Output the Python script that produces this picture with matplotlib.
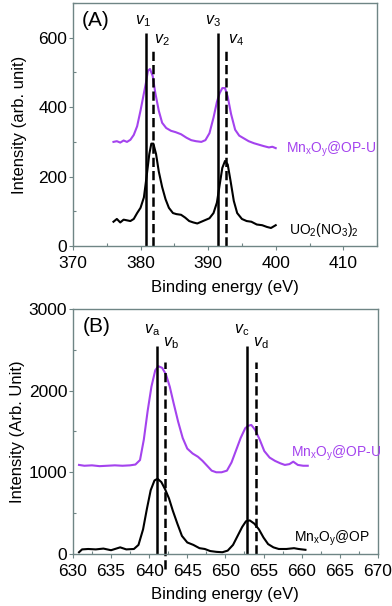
import matplotlib.pyplot as plt
from matplotlib.ticker import MultipleLocator

plt.rcParams['font.family'] = ['Liberation Sans', 'DejaVu Sans']
plt.rcParams['mathtext.fontset'] = 'custom'
plt.rcParams['mathtext.rm'] = 'Liberation Sans'
plt.rcParams['mathtext.it'] = 'Liberation Sans:italic'

# ---- panel A data (U 4f region) ----
a_x_top = [376.0, 376.5, 377.0, 377.5, 378.0, 378.5, 379.0, 379.5, 380.0, 380.4, 380.8, 381.1, 381.4,
           381.8, 382.2, 382.7, 383.2, 383.8, 384.5, 385.2, 386.0, 386.8, 387.5, 388.2, 389.0,
           389.6, 390.2, 390.8, 391.3, 391.7, 392.1, 392.5, 392.9, 393.4, 394.0, 394.6, 395.3,
           396.0, 396.8, 397.5, 398.2, 399.0, 399.5, 400.0]
a_y_top = [300, 302, 298, 304, 300, 306, 320, 345, 390, 430, 470, 505, 510,
           490, 440, 390, 355, 340, 332, 328, 322, 312, 305, 302, 300,
           305, 325, 370, 415, 440, 455, 455, 430, 380, 335, 318, 310,
           302, 296, 292, 288, 284, 286, 282]

a_x_bot = [376.0, 376.5, 377.0, 377.5, 378.0, 378.5, 379.0, 379.5, 380.0, 380.5, 380.9, 381.3, 381.6,
           381.9, 382.3, 382.7, 383.2, 383.7, 384.2, 384.8, 385.3, 386.0, 386.6, 387.2, 387.8,
           388.4, 389.0, 389.6, 390.2, 390.8, 391.3, 391.7, 392.1, 392.5, 392.9, 393.3, 393.8,
           394.3, 395.0, 395.7, 396.4, 397.2, 398.0, 398.7, 399.3, 400.0]
a_y_bot = [70, 78, 68, 76, 74, 72, 78, 95, 110, 140, 200, 265, 295,
           295, 265, 215, 170, 135, 110, 95, 92, 90, 82, 72, 68,
           65, 70, 75, 80, 95, 125, 175, 225, 245, 235, 190, 130,
           95, 78, 72, 70, 62, 60, 55, 52, 60]

a_lines_x = [380.8, 381.8, 391.5, 392.7]
a_lines_top = [615, 563, 615, 563]
a_lines_style = ['-', '--', '-', '--']
a_labels = ['$v_\\mathregular{1}$', '$v_\\mathregular{2}$', '$v_\\mathregular{3}$', '$v_\\mathregular{4}$']

# ---- panel B data (Mn 2p region) ----
b_x_top = [630.8, 631.5, 632.5, 633.5, 634.5, 635.5, 636.5, 637.5, 638.2, 638.8, 639.3, 639.8, 640.3,
           640.8, 641.2, 641.7, 642.2, 642.7, 643.2, 643.8, 644.4, 645.0, 645.7, 646.4, 647.0,
           647.6, 648.2, 648.8, 649.5, 650.2, 650.8, 651.4, 652.0, 652.6, 653.0, 653.4, 653.9,
           654.5, 655.1, 655.8, 656.5, 657.2, 657.8, 658.4, 658.9, 659.5, 660.2, 660.8]
b_y_top = [1090, 1080, 1085, 1075, 1080, 1085, 1080, 1085, 1095, 1150, 1400, 1750, 2050,
           2250, 2300, 2280, 2200, 2050, 1850, 1620, 1420, 1290, 1230, 1190, 1140,
           1080, 1020, 1000, 1000, 1020, 1120, 1270, 1420, 1540, 1570, 1580, 1520,
           1400, 1260, 1180, 1140, 1110, 1090, 1100, 1130, 1090, 1080, 1080]

b_x_bot = [630.8, 631.2, 632.0, 633.0, 634.0, 635.0, 636.2, 637.0, 638.0, 638.6, 639.2, 639.7, 640.2,
           640.7, 641.1, 641.6, 642.1, 642.6, 643.1, 643.7, 644.3, 645.0, 645.8, 646.6, 647.3,
           648.0, 648.8, 649.6, 650.3, 651.0, 651.6, 652.2, 652.7, 653.2, 653.8, 654.4, 655.0,
           655.6, 656.3, 657.0, 658.0, 659.0, 659.6, 660.5]
b_y_bot = [20, 55, 60, 55, 65, 45, 80, 55, 60, 110, 300, 550, 780,
           900, 920, 880, 790, 680, 530, 370, 220, 140, 110, 70, 60,
           35, 25, 20, 40, 110, 220, 330, 400, 410, 370, 300, 200,
           120, 80, 60, 60, 70, 60, 50]

b_lines_x = [641.0, 642.1, 652.8, 654.0]
b_lines_top = [2550, 2350, 2550, 2350]
b_lines_style = ['-', '--', '-', '--']
b_labels = ['$v_\\mathregular{a}$', '$v_\\mathregular{b}$', '$v_\\mathregular{c}$', '$v_\\mathregular{d}$']

purple = '#A443EE'
frame = '#6F8585'

fig = plt.figure(figsize=(3.92, 6.06), dpi=100)
ax1 = fig.add_axes([0.186, 0.594, 0.776, 0.401])
ax2 = fig.add_axes([0.186, 0.086, 0.778, 0.404])


def style_axes(ax):
    for sp in ax.spines.values():
        sp.set_color(frame)
        sp.set_linewidth(1.0)
    ax.tick_params(which='major', direction='out', length=3, width=0.8, color=frame,
                   labelsize=12.5)
    ax.tick_params(axis='x', which='major', pad=4)
    ax.tick_params(axis='y', which='major', pad=1)
    ax.tick_params(which='minor', direction='in', length=2.5, width=0.8, color=frame)
    ax.tick_params(top=False, right=False, which='both')


# panel A
ax1.plot(a_x_top, a_y_top, color=purple, lw=1.5)
ax1.plot(a_x_bot, a_y_bot, color='black', lw=1.5)
for x, top, ls in zip(a_lines_x, a_lines_top, a_lines_style):
    ax1.vlines(x, 0, top, colors='black', linestyles=ls, lw=1.8)
ax1.text(380.3, 648, a_labels[0], fontsize=11.5, ha='center', va='center')
ax1.text(383.2, 592, a_labels[1], fontsize=11.5, ha='center', va='center')
ax1.text(390.7, 648, a_labels[2], fontsize=11.5, ha='center', va='center')
ax1.text(394.1, 592, a_labels[3], fontsize=11.5, ha='center', va='center')
ax1.text(371.3, 650, '(A)', fontsize=15, va='center')
ax1.text(401.5, 278, 'Mn$_\\mathregular{x}$O$_\\mathregular{y}$@OP-U', color=purple, fontsize=10, va='center')
ax1.text(402.0, 45, 'UO$_\\mathregular{2}$(NO$_\\mathregular{3}$)$_\\mathregular{2}$', color='black', fontsize=10, va='center')
ax1.set_xlim(370, 415)
ax1.set_ylim(0, 700)
ax1.xaxis.set_major_locator(MultipleLocator(10))
ax1.xaxis.set_minor_locator(MultipleLocator(5))
ax1.yaxis.set_major_locator(MultipleLocator(200))
ax1.yaxis.set_minor_locator(MultipleLocator(100))
ax1.set_xlabel('Binding energy (eV)', fontsize=12, labelpad=7)
ax1.set_ylabel('Intensity (arb. unit)', fontsize=12, labelpad=8)
style_axes(ax1)

# panel B
ax2.plot(b_x_top, b_y_top, color=purple, lw=1.5)
ax2.plot(b_x_bot, b_y_bot, color='black', lw=1.5)
for x, top, ls in zip(b_lines_x, b_lines_top, b_lines_style):
    ax2.vlines(x, 0, top, colors='black', linestyles=ls, lw=1.8)
ax2.vlines(b_lines_x[1], -180, 0, colors='black', linestyles='--', lw=1.8, clip_on=False)
ax2.text(640.4, 2740, b_labels[0], fontsize=11.5, ha='center', va='center')
ax2.text(642.8, 2580, b_labels[1], fontsize=11.5, ha='center', va='center')
ax2.text(652.1, 2740, b_labels[2], fontsize=11.5, ha='center', va='center')
ax2.text(654.7, 2580, b_labels[3], fontsize=11.5, ha='center', va='center')
ax2.text(631.3, 2790, '(B)', fontsize=15, va='center')
ax2.text(658.6, 1230, 'Mn$_\\mathregular{x}$O$_\\mathregular{y}$@OP-U', color=purple, fontsize=10, va='center')
ax2.text(659.0, 190, 'Mn$_\\mathregular{x}$O$_\\mathregular{y}$@OP', color='black', fontsize=10, va='center')
ax2.set_xlim(630, 670)
ax2.set_ylim(0, 3000)
ax2.xaxis.set_major_locator(MultipleLocator(5))
ax2.xaxis.set_minor_locator(MultipleLocator(2.5))
ax2.yaxis.set_major_locator(MultipleLocator(1000))
ax2.yaxis.set_minor_locator(MultipleLocator(500))
ax2.set_xlabel('Binding energy (eV)', fontsize=12, labelpad=6)
ax2.set_ylabel('Intensity (Arb. Unit)', fontsize=12, labelpad=3)
style_axes(ax2)

fig.savefig('out.png', dpi=100)
